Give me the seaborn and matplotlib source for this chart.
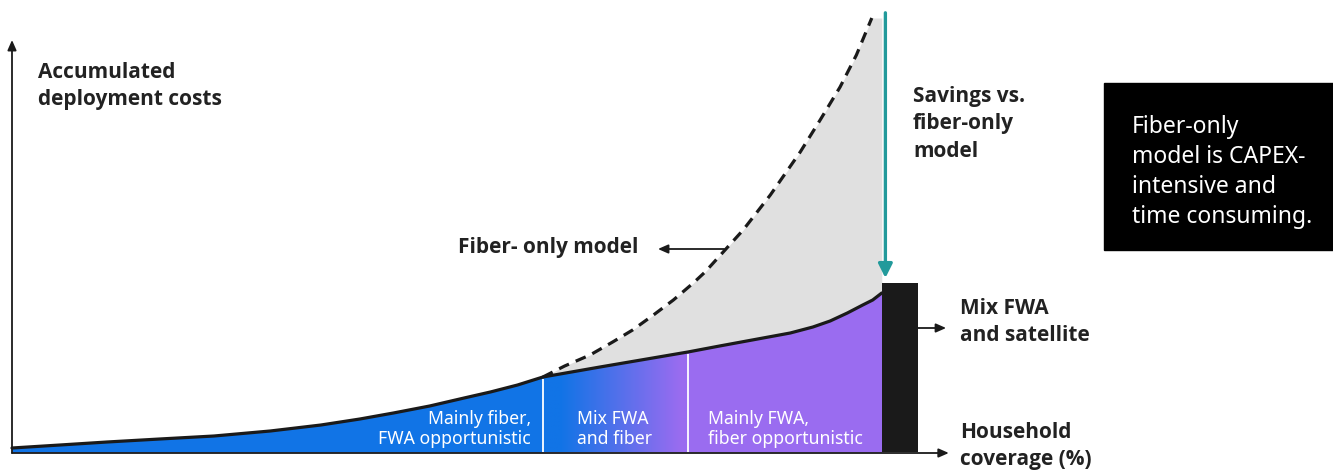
import numpy as np
import matplotlib
matplotlib.use("Agg")
import matplotlib.pyplot as plt
from matplotlib.colors import LinearSegmentedColormap
from matplotlib.patches import Polygon, Rectangle
import pandas as pd
import seaborn as sns

# Accumulated deployment cost (index) against household coverage (%) for the mixed rollout
mix_coverage = [0, 5.3, 10.5, 16.3, 22.3, 28.5, 34.1, 38.4, 42.1, 46.1, 49.9, 52.8, 55.8, 58.6,
                64.9, 74.6, 78.1, 82.9, 85.9, 88.4, 90.3, 92.2, 93.9, 95.0, 96.0]
mix_cost = [1.0, 1.75, 2.5, 3.25, 4.0, 5.25, 6.75, 8.25, 9.75, 11.5, 13.5, 15.0, 16.75, 18.75,
            21.25, 25.0, 26.5, 28.5, 29.75, 31.25, 32.75, 34.75, 36.75, 38.0, 39.75]

# Fiber-only rollout, leaving the mixed curve once the fiber-led phase ends
fiber_coverage = [58.6, 61.0, 63.8, 66.3, 68.5, 70.8, 73.0, 75.2, 76.5, 78.7, 80.7, 83.7, 87.0,
                  89.2, 91.4, 93.2, 94.9, 96.0]
fiber_cost = [18.75, 21.5, 24.25, 27.5, 30.5, 34.25, 38.0, 42.25, 45.0, 50.5, 55.5, 64.25, 75.0,
              83.0, 91.25, 99.25, 108.5, 108.5]

# Technology phases along the coverage axis
phase_edges = [0, 58.6, 74.6, 96.0]
phase_labels = ["Mainly fiber,\nFWA opportunistic", "Mix FWA\nand fiber", "Mainly FWA,\nfiber opportunistic"]

# Hardest-to-reach households, served by FWA and satellite
satellite_edges = [96.0, 100.0]
satellite_cost = 42.25

BLUE = "#1174e6"
PURPLE = "#9a6cf0"
GREY = "#e0e0e0"
INK = "#1a1a1a"
TEAL = "#229a9b"

sns.set_theme(style="white")
plt.rcParams["font.family"] = ["Noto Sans", "DejaVu Sans"]

W, H = 1333, 470
fig = plt.figure(figsize=(W / 100, H / 100), dpi=100)
ax = fig.add_axes([0, 0, 1, 1])

mix = pd.DataFrame({"coverage": mix_coverage, "cost": mix_cost})
fiber = pd.DataFrame({"coverage": fiber_coverage, "cost": fiber_cost})

# Savings wedge between the two models
fib_x = np.array(fiber_coverage)
ax.fill_between(fib_x, np.interp(fib_x, mix_coverage, mix_cost), fiber_cost,
                color=GREY, lw=0, zorder=1)

# Area under the mixed curve: purple base, blue fiber-led phase, gradient in the mixed phase
mx = np.array(mix_coverage)
my = np.array(mix_cost)
ax.fill_between(mx, 0, my, color=PURPLE, lw=0, zorder=2)
m0 = mx <= phase_edges[1]
ax.fill_between(mx[m0], 0, my[m0], color=BLUE, lw=0, zorder=3)

m1 = (mx >= phase_edges[1]) & (mx <= phase_edges[2])
verts = np.vstack([np.column_stack([mx[m1], my[m1]]),
                   [[phase_edges[2], 0], [phase_edges[1], 0]]])
clip = Polygon(verts, closed=True, facecolor="none", edgecolor="none")
ax.add_patch(clip)
cmap = LinearSegmentedColormap.from_list("fwa", [(0, BLUE), (0.12, BLUE), (0.95, PURPLE), (1, PURPLE)])
grad = np.linspace(0, 1, 256).reshape(1, -1)
img = ax.imshow(grad, cmap=cmap, aspect="auto", zorder=3, interpolation="bilinear",
                extent=[phase_edges[1], phase_edges[2], 0, max(my[m1]) + 1])
img.set_clip_path(clip)

# Phase separators
for edge in phase_edges[1:3]:
    ax.vlines(edge, 0, np.interp(edge, mix_coverage, mix_cost) - 0.6, color="white", lw=1.3, zorder=4)

# Curves
sns.lineplot(data=fiber.iloc[:-1], x="coverage", y="cost", ax=ax, color=INK, lw=2.3,
             zorder=5, legend=False)
ax.lines[-1].set_dashes((3.4, 2.3))
sns.lineplot(data=mix, x="coverage", y="cost", ax=ax, color=INK, lw=2.3, zorder=6, legend=False)
for line in ax.lines:
    line.set_solid_joinstyle("round")
ax.set_axis_off()

# FWA and satellite segment
ax.bar((satellite_edges[0] + satellite_edges[1]) / 2, satellite_cost,
       width=satellite_edges[1] - satellite_edges[0], color=INK, lw=0, zorder=4)

# Axis limits so that one coverage point spans ~9 px and one cost unit 4 px
ax.set_xlim(-12 / 9.06, (W - 12) / 9.06)
ax.set_ylim((452 - H) / 4, 452 / 4)

# Axes with arrow heads
arrow_kw = dict(arrowstyle="-|>,head_length=0.5,head_width=0.22", color=INK, lw=1.3,
                shrinkA=0, shrinkB=0)
ax.annotate("", xy=(0, 103), xytext=(0, -0.25), arrowprops=arrow_kw, zorder=7)
ax.annotate("", xy=(103.4, -0.25), xytext=(0, -0.25), arrowprops=arrow_kw, zorder=7)
ax.annotate("", xy=(103.1, 31), xytext=(100, 31), arrowprops=arrow_kw, zorder=7)
ax.annotate("", xy=(71.3, 50.75), xytext=(78.6, 50.75), arrowprops=arrow_kw, zorder=7)

# Savings arrow
ax.annotate("", xy=(96.4, 43.5), xytext=(96.4, 109.8), zorder=8,
            arrowprops=dict(arrowstyle="-|>,head_length=0.7,head_width=0.35", color=TEAL,
                            lw=2.4, shrinkA=0, shrinkB=0))

def fx(px):
    return px / W

def fy(py):
    return 1 - py / H

# Phase labels inside the areas
lab_kw = dict(color="white", fontsize=12.7, linespacing=1.15, va="center")
fig.text(fx(531), fy(429), phase_labels[0], ha="right", multialignment="right", **lab_kw)
fig.text(fx(577), fy(429), phase_labels[1], ha="left", **lab_kw)
fig.text(fx(708), fy(429), phase_labels[2], ha="left", **lab_kw)

# Annotations
bold = dict(color="#222222", fontsize=15, fontweight="bold", linespacing=1.4, va="center", ha="left",
            family=["Open Sans", "DejaVu Sans"])
fig.text(fx(38), fy(86), "Accumulated\ndeployment costs", **bold)
fig.text(fx(913), fy(124), "Savings vs.\nfiber-only\nmodel", **bold)
fig.text(fx(458), fy(247), "Fiber- only model", **bold)
fig.text(fx(960), fy(322), "Mix FWA\nand satellite", **bold)
fig.text(fx(960), fy(446), "Household\ncoverage (%)", **bold)

# Call-out box
fig.patches.append(Rectangle((fx(1104), fy(250)), (W - 1104) / W, 167 / H,
                             transform=fig.transFigure, color="black", zorder=0))
fig.text(fx(1132), fy(172), "Fiber-only\nmodel is CAPEX-\nintensive and\ntime consuming.",
         color="white", fontsize=16.5, linespacing=1.35, va="center", ha="left")

fig.savefig("out.png", dpi=100, facecolor="white")
